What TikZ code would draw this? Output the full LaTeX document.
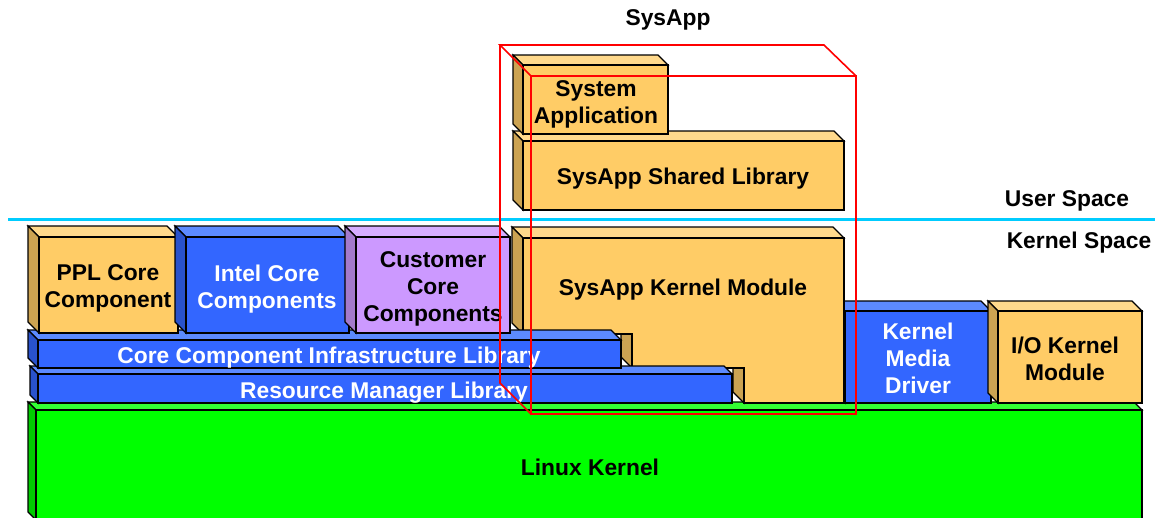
\documentclass[tikz,border=0pt]{standalone}
\usepackage{fontspec}
\setmainfont{Liberation Sans}
\definecolor{orF}{RGB}{255,204,102}
\definecolor{orT}{RGB}{255,217,140}
\definecolor{orS}{RGB}{204,163,82}
\definecolor{blF}{RGB}{51,102,255}
\definecolor{blT}{RGB}{92,138,255}
\definecolor{blS}{RGB}{41,82,204}
\definecolor{lvF}{RGB}{204,153,255}
\definecolor{lvT}{RGB}{214,173,255}
\definecolor{lvS}{RGB}{163,122,204}
\definecolor{grF}{RGB}{0,255,0}
\definecolor{grT}{RGB}{51,255,51}
\definecolor{grS}{RGB}{0,204,0}
\definecolor{sep}{RGB}{0,204,255}
\newcommand{\tdbox}[6]{%
  \filldraw[edge, fill=#6T] ({#1-#5},{#2-#5}) -- ({#3-#5},{#2-#5}) -- (#3,#2) -- (#1,#2) -- cycle;
  \filldraw[edge, fill=#6S] ({#1-#5},{#2-#5}) -- (#1,#2) -- (#1,#4) -- ({#1-#5},{#4-#5}) -- cycle;
  \filldraw[edge, fill=#6F] (#1,#2) rectangle (#3,#4);}
\tikzset{
  edge/.style={draw=black, line width=1.2pt, line join=miter},
  lbl/.style={font=\bfseries\fontsize{22.8}{27}\selectfont, align=center, inner sep=0pt},
  wlbl/.style={lbl, text=white},
  redline/.style={draw=red, line width=1.6pt},
}
\begin{document}
\begin{tikzpicture}[x=1pt,y=-1pt]
\useasboundingbox (0,0) rectangle (1162,517);
\fill[white] (0,0) rectangle (1162,517);
% Linux kernel
\tdbox{36}{410}{1142}{520}{8}{gr}
% kernel media driver, IO kernel module
\tdbox{845}{311}{991}{403}{10}{bl}
\tdbox{998}{311}{1142}{403}{10}{or}
% SysApp kernel module (stepped)
\filldraw[edge, fill=orT] (512,227) -- (833,227) -- (844,238) -- (523,238) -- cycle;
\filldraw[edge, fill=orS] (512,227) -- (523,238) -- (523,334) -- (512,323) -- cycle;
\filldraw[edge, fill=orS] (621,323) -- (632,334) -- (632,368) -- (621,357) -- cycle;
\filldraw[edge, fill=orS] (733,357) -- (744,368) -- (744,403) -- (733,392) -- cycle;
\filldraw[edge, fill=orF] (523,238) -- (844,238) -- (844,403) -- (744,403) -- (744,368)
  -- (632,368) -- (632,334) -- (523,334) -- cycle;
% libraries
\tdbox{38}{374}{732}{403}{8}{bl}
\tdbox{38}{340}{621}{368}{10}{bl}
% core components
\tdbox{39}{237}{178}{333}{11}{or}
\tdbox{186}{237}{349}{333}{11}{bl}
\tdbox{356}{237}{510}{333}{11}{lv}
% user space boxes
\tdbox{523}{141}{844}{210}{10}{or}
\tdbox{523}{65}{668}{134}{10}{or}
% separator
\draw[sep, line width=3pt] (8,219) -- (1155,219);
% labels
\node[lbl] (title) at (668,20) {SysApp};
\node[lbl] (sysappl) at (596,104) {System\\Application};
\node[lbl] (shlib) at (683,179) {SysApp Shared Library};
\node[lbl] (user) at (1067,201) {User Space};
\node[lbl] (kspace) at (1079,243) {Kernel Space};
\node[lbl] (ppl) at (108,288) {PPL Core\\Component};
\node[wlbl] (intel) at (267,289) {Intel Core\\Components};
\node[lbl] (cust) at (433,289) {Customer\\Core\\Components};
\node[lbl] (kmod) at (683,290) {SysApp Kernel Module};
\node[wlbl] (ccil) at (329,358) {Core Component Infrastructure Library};
\node[wlbl] (rml) at (384,393) {Resource Manager Library};
\node[wlbl] (kmd) at (918,358) {Kernel\\Media\\Driver};
\node[lbl] (io) at (1065,359) {I/O Kernel\\Module};
\node[lbl] (linux) at (590,467) {Linux Kernel};
% red SysApp wireframe
\draw[redline] (531,76) rectangle (856,414);
\draw[redline] (531,76) -- (500,45) -- (824,45) -- (856,76);
\draw[redline] (500,45) -- (500,383) -- (531,414);
\end{tikzpicture}
\end{document}
